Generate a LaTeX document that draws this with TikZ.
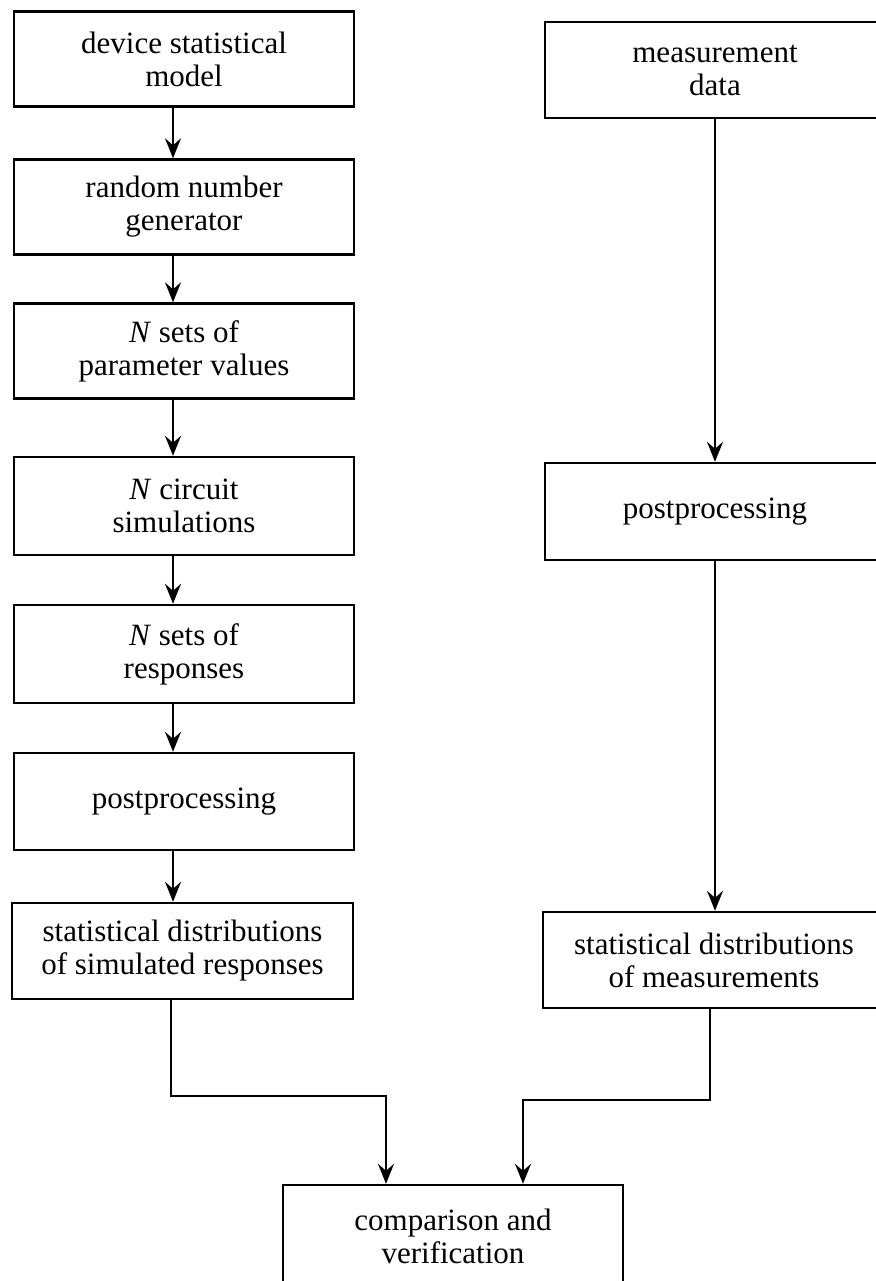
\documentclass[tikz,border=0pt]{standalone}
\usepackage{fontspec}
\setmainfont{Liberation Serif}
\usetikzlibrary{arrows.meta}
\tikzset{
  boxstyle/.style={draw, line width=1.2pt, rectangle, inner sep=0pt, align=center,
    font=\fontsize{15.5}{16.5}\selectfont},
  lbox/.style={boxstyle, minimum width=170pt, minimum height=47.5pt},
  rbox/.style={boxstyle, minimum width=170pt, minimum height=48pt},
  arr/.style={line width=1pt, -{Stealth[length=10pt,width=8pt,inset=3.5pt]}},
  ln/.style={line width=1pt}
}
\begin{document}
\begin{tikzpicture}[x=0.5pt,y=-0.5pt]
\useasboundingbox (0,0) rectangle (875,1281);
% left column
\node[lbox] (l1) at (184,59) {device statistical\\model};
\node[lbox] (l2) at (184,207) {random number\\generator};
\node[lbox] (l3) at (184,351) {\textit{N} sets of\\parameter values};
\node[lbox, minimum height=49pt] (l4) at (184,506) {\textit{N} circuit\\simulations};
\node[lbox, minimum height=49pt] (l5) at (184,654) {\textit{N} sets of\\responses};
\node[lbox, minimum height=48.5pt] (l6) at (184,801.5) {postprocessing};
\node[lbox, minimum width=170.5pt, minimum height=48pt] (l7) at (182.5,951) {statistical distributions\\of simulated responses};
% right column
\node[rbox] (r1) at (715,70) {measurement\\data};
\node[rbox, minimum height=48.5pt] (r2) at (715,511.5) {postprocessing};
\node[rbox, minimum width=171pt] (r3) at (714,960) {statistical distributions\\of measurements};
% bottom
\node[boxstyle, minimum width=170pt, minimum height=50pt, text depth=0pt] (b) at (453,1235) {\raisebox{8pt}{\begin{tabular}{@{}c@{}}comparison and\\verification\end{tabular}}};
% column coordinates
\coordinate (ax) at (173,0);
\coordinate (rx) at (715,0);
\coordinate (lx) at (171,0);
\coordinate (mx) at (710,0);
\coordinate (bl) at (386,0);
\coordinate (br) at (523,0);
\coordinate (hl) at (0,1096);
\coordinate (hr) at (0,1100);
% left arrows
\draw[arr] (l1.south -| ax) -- (l2.north -| ax);
\draw[arr] (l2.south -| ax) -- (l3.north -| ax);
\draw[arr] (l3.south -| ax) -- (l4.north -| ax);
\draw[arr] (l4.south -| ax) -- (l5.north -| ax);
\draw[arr] (l5.south -| ax) -- (l6.north -| ax);
\draw[arr] (l6.south -| ax) -- (l7.north -| ax);
% right arrows
\draw[arr] (r1.south -| rx) -- (r2.north -| rx);
\draw[arr] (r2.south -| rx) -- (r3.north -| rx);
% merge
\draw[arr] (l7.south -| lx) -- (lx |- hl) -- (bl |- hl) -- (b.north -| bl);
\draw[arr] (r3.south -| mx) -- (mx |- hr) -- (br |- hr) -- (b.north -| br);
\end{tikzpicture}
\end{document}
